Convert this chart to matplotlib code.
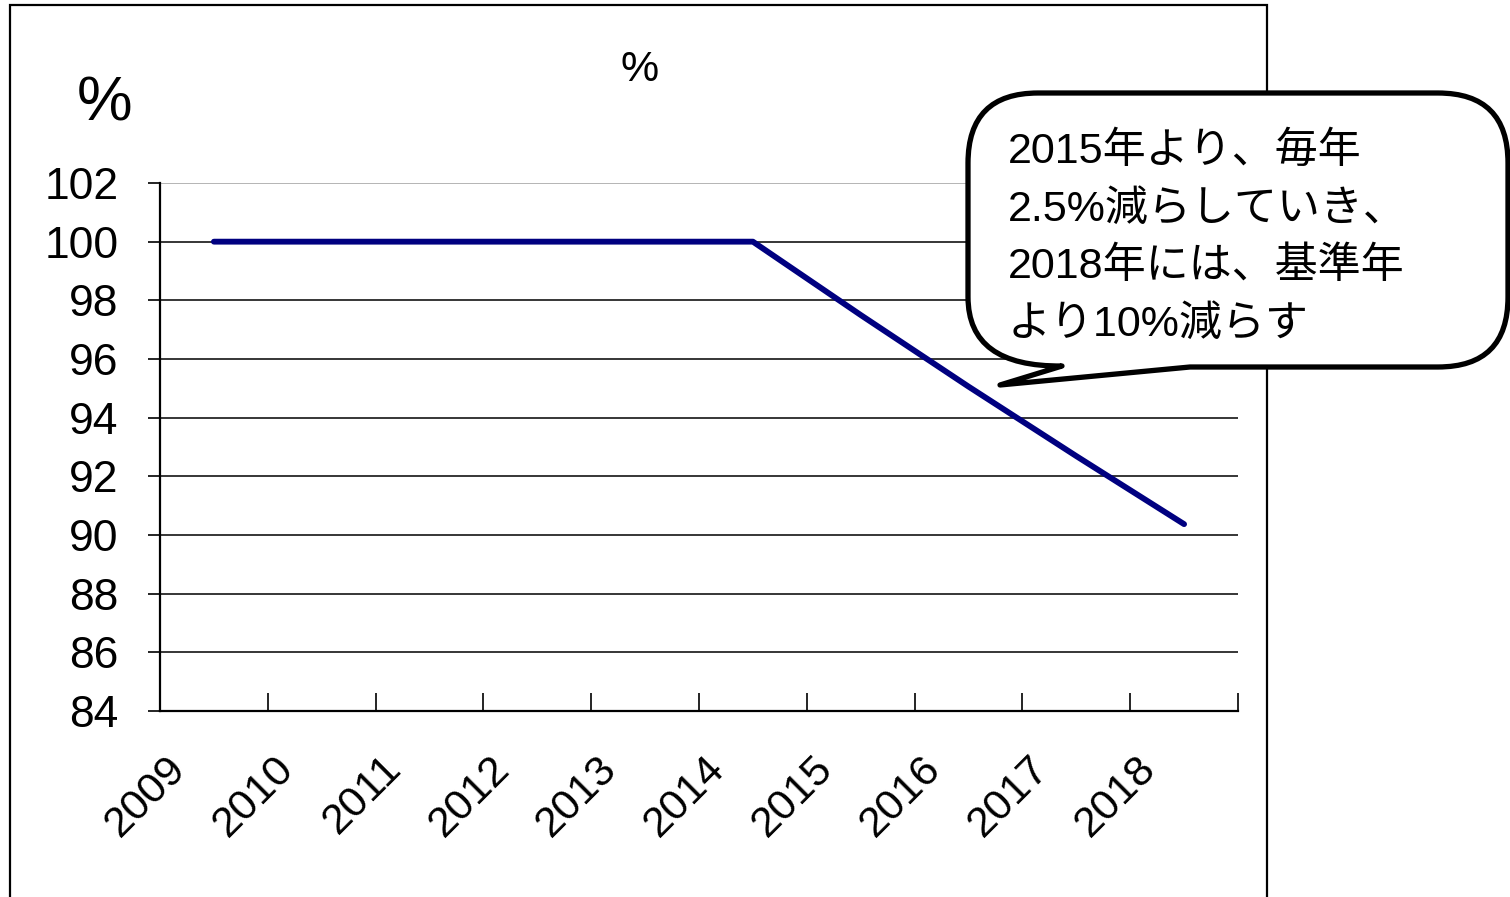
import numpy as np
import matplotlib.pyplot as plt
from matplotlib.path import Path
from matplotlib.patches import PathPatch, Rectangle
from matplotlib.transforms import ScaledTranslation

years = ['2009', '2010', '2011', '2012', '2013', '2014', '2015', '2016', '2017', '2018']
values = [100, 100, 100, 100, 100, 100, 97.5, 95.06, 92.69, 90.37]
yticks = [84, 86, 88, 90, 92, 94, 96, 98, 100, 102]
note = '2015年より、毎年\n2.5%減らしていき、\n2018年には、基準年\nより10%減らす'

W, H = 1510, 897
narrow = ['Liberation Sans Narrow', 'Liberation Sans', 'DejaVu Sans']
jp = ['Liberation Sans', 'Noto Sans CJK JP', 'DejaVu Sans']

fig = plt.figure(figsize=(W / 100, H / 100), dpi=100)
ax = fig.add_axes([160 / W, 1 - 711 / H, (1238 - 160) / W, (711 - 183) / H])

x = np.arange(len(years))
ax.plot(x, values, color='#000080', lw=4.2, solid_capstyle='round', solid_joinstyle='round', zorder=3)

ax.set_xlim(-0.5, len(years) - 0.5)
ax.set_ylim(84, 102)
ax.set_yticks(yticks)
ax.set_yticklabels([str(v) for v in yticks], family=narrow, fontsize=32)
ax.tick_params(axis='y', direction='out', length=9, width=1.2, pad=21, color='black')

ax.set_xticks(x)
ax.set_xticklabels(years, family=narrow, fontsize=31, rotation=45, ha='right', va='center',
                   rotation_mode='anchor')
ax.tick_params(axis='x', which='major', length=0, pad=37)
ax.set_xticks(np.arange(len(years) + 1) - 0.5, minor=True)
ax.tick_params(axis='x', which='minor', direction='in', length=13, width=1.2, color='black')
for lab in ax.get_xticklabels():
    lab.set_transform(lab.get_transform() + ScaledTranslation(-0.34, 0, fig.dpi_scale_trans))

ax.yaxis.grid(True, color='black', lw=1.1)
ax.yaxis.get_gridlines()[-1].set_color('#a0a0a0')
ax.set_axisbelow(True)
for s in ['top', 'right']:
    ax.spines[s].set_visible(False)
for s in ['left', 'bottom']:
    ax.spines[s].set_linewidth(1.6)
    ax.spines[s].set_color('black')

fig.text(640 / W, 1 - 70 / H, '%', family=narrow, fontsize=31, ha='center', va='center')
fig.text(105 / W, 1 - 104 / H, '%', family=narrow, fontsize=45, ha='center', va='center')

# outer frame
fig.add_artist(Rectangle((10 / W, -0.05), (1267 - 10) / W, 1.05 - 5 / H, transform=fig.transFigure,
                         fill=False, ec='black', lw=1.6))

# speech bubble
L, R, T, B, r = 968, 1508, 93, 367, 70
pts = [(L + r, T), (R - r, T), (R, T), (R, T + r), (R, B - r), (R, B), (R - r, B),
       (1190, B), (1000, 385), (1062, B - 1), (L, B), (L, B - r), (L, T + r), (L, T), (L + r, T), (L + r, T)]
codes = [Path.MOVETO, Path.LINETO, Path.CURVE3, Path.CURVE3, Path.LINETO, Path.CURVE3, Path.CURVE3,
         Path.LINETO, Path.LINETO, Path.LINETO, Path.CURVE3, Path.CURVE3, Path.LINETO, Path.CURVE3, Path.CURVE3,
         Path.CLOSEPOLY]
verts = [(px / W, 1 - py / H) for px, py in pts]
fig.add_artist(PathPatch(Path(verts, codes), transform=fig.transFigure, fc='white', ec='black',
                         lw=3.8, joinstyle='round', zorder=5))
fig.text(1008 / W, 1 - 132 / H, note, family=jp, fontsize=31, ha='left', va='top',
         linespacing=1.57, zorder=6)

fig.savefig('out.png', dpi=100)
